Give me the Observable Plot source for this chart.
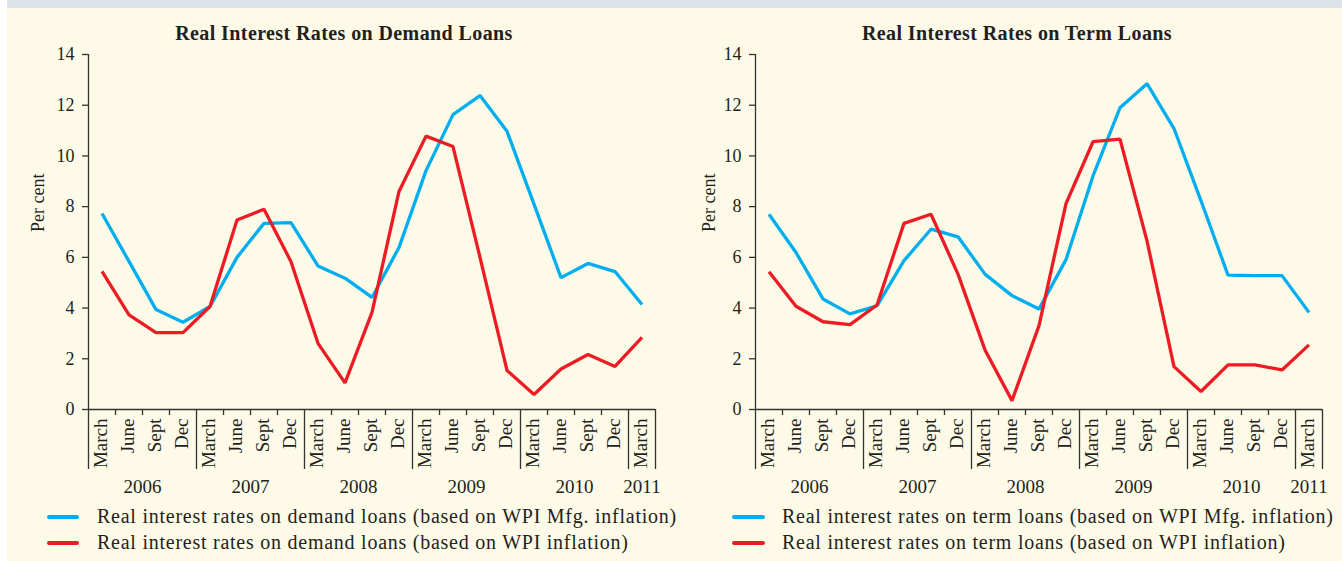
<!DOCTYPE html>
<html>
<head>
<meta charset="utf-8">
<script src="https://cdn.jsdelivr.net/npm/d3@7"></script>
<script src="https://cdn.jsdelivr.net/npm/@observablehq/plot@0.6"></script>
<style>
  html, body { margin: 0; padding: 0; background: #ffffff; }
  #page { position: relative; width: 1342px; height: 561px; overflow: hidden; background: #ffffff; font-family: "Liberation Serif", "DejaVu Serif", serif; color: #231f20; }
  #band { position: absolute; left: 7px; top: 0; width: 1335px; height: 8px; background: #dde3e9; }
  #panel { position: absolute; left: 7px; top: 8px; width: 1335px; height: 553px; background: #fefae8; }
  .chart { position: absolute; top: 0; }
  .title { position: absolute; top: 21px; width: 600px; text-align: center; font-weight: bold; font-size: 20px; letter-spacing: 0.4px; line-height: 24px; white-space: nowrap; }
  .legtext { position: absolute; font-size: 20px; letter-spacing: 0.75px; line-height: 24px; white-space: nowrap; }
  .sw { position: absolute; height: 4px; border-radius: 2px; }
</style>
</head>
<body>
<div id="page">
  <div id="band"></div>
  <div id="panel"></div>
</div>
<script>
// ---------- data ----------
const quarters = ["March","June","Sept","Dec","March","June","Sept","Dec","March","June","Sept","Dec",
                  "March","June","Sept","Dec","March","June","Sept","Dec","March"];
const quarterYears = [2006,2006,2006,2006,2007,2007,2007,2007,2008,2008,2008,2008,
                      2009,2009,2009,2009,2010,2010,2010,2010,2011];
const yTicks = [0, 2, 4, 6, 8, 10, 12, 14];

const demandMfg = [7.73, 5.84, 3.94, 3.44, 4.06, 6.0, 7.34, 7.37, 5.66, 5.18, 4.42,
                   6.39, 9.42, 11.63, 12.38, 10.97, 8.1, 5.2, 5.76, 5.44, 4.14];
const demandWpi = [5.45, 3.73, 3.03, 3.03, 4.06, 7.47, 7.9, 5.83, 2.61, 1.05, 3.83,
                   8.6, 10.78, 10.37, 6.0, 1.54, 0.59, 1.6, 2.17, 1.7, 2.84];
const termMfg   = [7.7, 6.19, 4.36, 3.77, 4.09, 5.87, 7.11, 6.81, 5.34, 4.49, 3.96,
                   5.91, 9.21, 11.9, 12.85, 11.08, 8.23, 5.3, 5.28, 5.28, 3.83];
const termWpi   = [5.43, 4.07, 3.46, 3.35, 4.12, 7.34, 7.7, 5.34, 2.35, 0.35, 3.31,
                   8.12, 10.56, 10.66, 6.65, 1.69, 0.71, 1.76, 1.76, 1.56, 2.55];

const titles = ["Real Interest Rates on Demand Loans", "Real Interest Rates on Term Loans"];
const legendDemand = ["Real interest rates on demand loans (based on WPI Mfg. inflation)",
                      "Real interest rates on demand loans (based on WPI inflation)"];
const legendTerm   = ["Real interest rates on term loans (based on WPI Mfg. inflation)",
                      "Real interest rates on term loans (based on WPI inflation)"];
const yLabel = "Per cent";

// ---------- styles ----------
const BLUE = "#00aeef", RED = "#ed1c24", AXIS = "#333333", TEXT = "#231f20";
const FONT = "Liberation Serif, DejaVu Serif, serif";

// derived positions
const idx = quarters.map((q, i) => i);
const longBounds = idx.filter(i => quarters[i] === "March").map(i => i - 0.5).concat([quarters.length - 0.5]);
const shortBounds = idx.filter(i => quarters[i] !== "March").map(i => i - 0.5);
const yearGroups = Array.from(d3.group(idx, i => quarterYears[i]), ([year, is]) => ({year, center: d3.mean(is)}));

function panel(mfg, wpi, marginLeft, marginRight) {
  const W = 671, H = 500, MT = 54, MB = 91;
  const frameH = H - MT - MB;
  return Plot.plot({
    width: W, height: H,
    marginLeft, marginRight, marginTop: MT, marginBottom: MB,
    x: {type: "linear", domain: [-0.5, quarters.length - 0.5], axis: null},
    y: {domain: [0, 14], axis: null},
    style: {background: "transparent", fontFamily: FONT, fontSize: "18px", color: TEXT, overflow: "visible"},
    marks: [
      Plot.ruleY([0], {stroke: AXIS, strokeWidth: 1.3}),
      Plot.ruleX([-0.5], {y1: 0, y2: 14, stroke: AXIS, strokeWidth: 1.3}),
      Plot.ruleY(yTicks, {y: d => d, insetLeft: -6, insetRight: W - marginLeft - marginRight, stroke: AXIS, strokeWidth: 1.3}),
      Plot.text(yTicks, {y: d => d, text: d => String(d), frameAnchor: "left", dx: -14, textAnchor: "end", fill: TEXT, fontSize: 18}),
      Plot.ruleX(shortBounds, {x: d => d, insetTop: frameH, insetBottom: -6, stroke: AXIS, strokeWidth: 1.3}),
      Plot.ruleX(longBounds, {x: d => d, insetTop: frameH, insetBottom: -60, stroke: AXIS, strokeWidth: 1.3}),
      Plot.text(quarters, {x: (d, i) => i, text: d => d, frameAnchor: "bottom", dx: 5, dy: 9, rotate: -90, textAnchor: "end", fill: TEXT, fontSize: 19}),
      Plot.text(yearGroups, {x: "center", text: d => String(d.year), frameAnchor: "bottom", dy: 83, fill: TEXT, fontSize: 19}),
      Plot.text([yLabel], {text: d => d, frameAnchor: "left", dx: 88 - marginLeft - 50, rotate: -90, fill: TEXT, fontSize: 18}),
      Plot.line(mfg, {x: (d, i) => i, y: d => d, stroke: BLUE, strokeWidth: 3.3, strokeLinejoin: "miter", strokeLinecap: "butt"}),
      Plot.line(wpi, {x: (d, i) => i, y: d => d, stroke: RED, strokeWidth: 3.3, strokeLinejoin: "miter", strokeLinecap: "butt"})
    ]
  });
}

const page = document.getElementById("page");

function addChart(svg, left) {
  svg.classList.add("chart");
  svg.style.left = left + "px";
  page.appendChild(svg);
}
addChart(panel(demandMfg, demandWpi, 88, 16), 0);
addChart(panel(termMfg, termWpi, 84, 20), 671);

function addTitle(text, center) {
  const d = document.createElement("div");
  d.className = "title";
  d.style.left = (center - 300) + "px";
  d.textContent = text;
  page.appendChild(d);
}
addTitle(titles[0], 344);
addTitle(titles[1], 1017);

function addLegend(texts, swLeft, swWidth, textLeft) {
  const colors = [BLUE, RED];
  const rows = [517, 543];
  texts.forEach((t, k) => {
    const s = document.createElement("div");
    s.className = "sw";
    s.style.left = swLeft + "px";
    s.style.width = swWidth + "px";
    s.style.top = (rows[k] - 2) + "px";
    s.style.background = colors[k];
    page.appendChild(s);
    const d = document.createElement("div");
    d.className = "legtext";
    d.style.left = textLeft + "px";
    d.style.top = (rows[k] - 13) + "px";
    d.textContent = t;
    page.appendChild(d);
  });
}
addLegend(legendDemand, 47, 32, 97);
addLegend(legendTerm, 732, 33, 782);
</script>
</body>
</html>
